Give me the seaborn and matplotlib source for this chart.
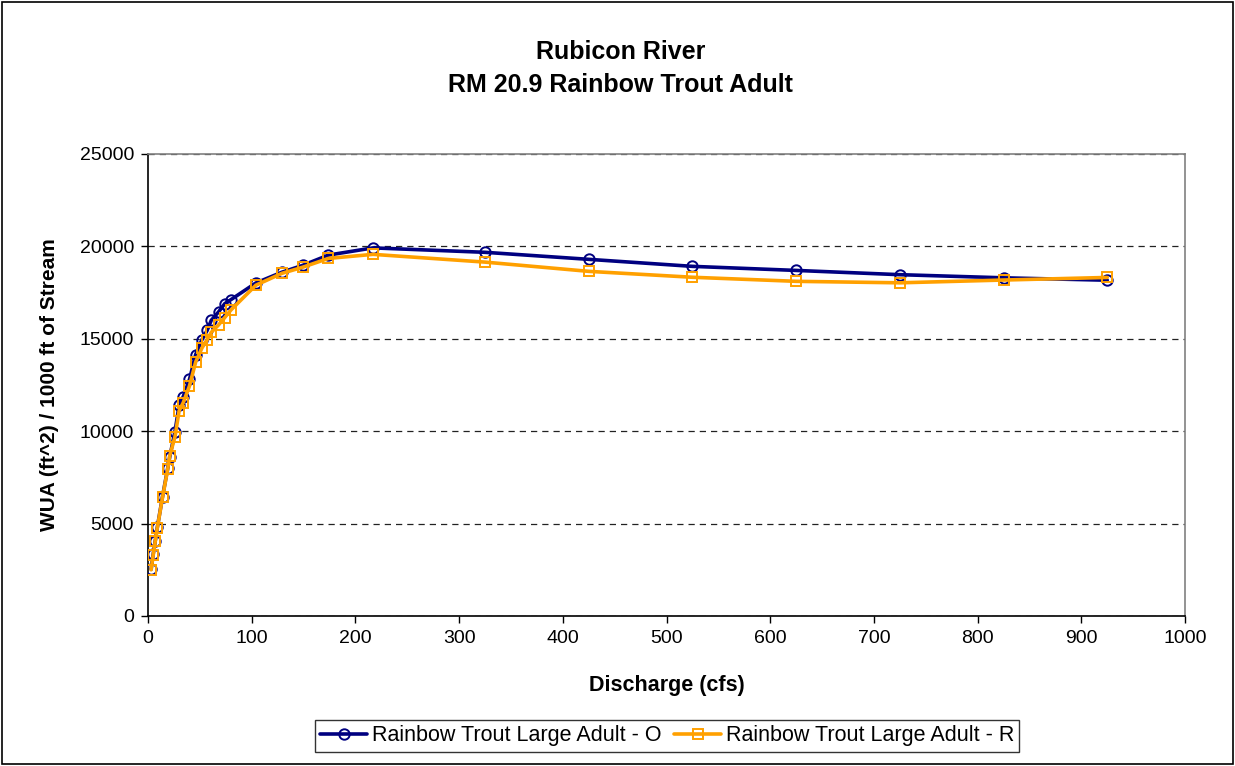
import matplotlib
matplotlib.use("Agg")
import matplotlib.pyplot as plt
import seaborn as sns
import pandas as pd
from matplotlib.patches import Rectangle

discharge = [3, 5, 7, 9, 14, 19, 21, 26, 30, 34, 40, 46, 52, 57, 61, 68, 74, 80,
             104, 129, 149, 174, 217, 325, 425, 525, 625, 725, 825, 925]
wua_o = [2530, 3340, 4060, 4800, 6460, 7990, 8620, 9970, 11400, 11870, 12800, 14150,
         14950, 15450, 16000, 16450, 16900, 17120,
         18020, 18600, 18970, 19530, 19920, 19680, 19300, 18920, 18700, 18470, 18300, 18170]
wua_r = [2500, 3300, 4050, 4780, 6420, 7950, 8680, 9700, 11100, 11550, 12450, 13750,
         14500, 14950, 15350, 15750, 16150, 16560,
         17900, 18540, 18870, 19350, 19570, 19150, 18650, 18330, 18110, 18030, 18180, 18320]
series_o = "Rainbow Trout Large Adult - O"
series_r = "Rainbow Trout Large Adult - R"

sns.set_theme(style="white")
plt.rcParams['font.family'] = ['Liberation Sans', 'DejaVu Sans']
plt.rcParams['text.color'] = 'black'
plt.rcParams['axes.labelcolor'] = 'black'
plt.rcParams['xtick.color'] = 'black'
plt.rcParams['ytick.color'] = 'black'

fig = plt.figure(figsize=(12.35, 7.66), dpi=100)
ax = fig.add_axes([148/1235, 1-616/766, (1185-148)/1235, (616-154)/766])

df_o = pd.DataFrame({"x": discharge, "y": wua_o})
df_r = pd.DataFrame({"x": discharge, "y": wua_r})

navy = "#000080"
orange = "#FFA000"
sns.lineplot(data=df_o, x="x", y="y", ax=ax, color=navy, lw=2.6, marker="o", ms=7.5,
             markerfacecolor="none", markeredgecolor=navy, markeredgewidth=1.4,
             sort=False, label=series_o, zorder=3)
sns.lineplot(data=df_r, x="x", y="y", ax=ax, color=orange, lw=2.6, marker="s", ms=7.5,
             markerfacecolor="none", markeredgecolor=orange, markeredgewidth=1.4,
             sort=False, label=series_r, zorder=4)

ax.set_xlim(0, 1000)
ax.set_ylim(0, 25000)
ax.set_xticks(range(0, 1001, 100))
ax.set_yticks(range(0, 25001, 5000))
ax.yaxis.grid(True, linestyle=(0, (5, 4)), color="#222222", linewidth=0.9)
ax.xaxis.grid(False)
for side in ["top", "right"]:
    ax.spines[side].set_color("#808080")
    ax.spines[side].set_linewidth(1.2)
for side in ["left", "bottom"]:
    ax.spines[side].set_color("black")
    ax.spines[side].set_linewidth(1.2)
ax.tick_params(axis="both", which="major", direction="out", length=5, width=1,
               color="black", labelcolor="black", labelsize=14, bottom=True, left=True, pad=5)

ax.set_xlabel("Discharge (cfs)", fontsize=15.5, fontweight="bold", labelpad=20, color="black")
ax.set_ylabel("WUA (ft^2) / 1000 ft of Stream", fontsize=15, fontweight="bold", labelpad=15, color="black")

fig.text(0.5025, 1-52/766, "Rubicon River", ha="center", va="center", fontsize=18, fontweight="bold", color="black")
fig.text(0.5025, 1-85/766, "RM 20.9 Rainbow Trout Adult", ha="center", va="center", fontsize=18, fontweight="bold", color="black")

leg = ax.legend(loc="center", bbox_to_anchor=(667/1235, 1-736/766), bbox_transform=fig.transFigure,
                ncol=2, frameon=True, fancybox=False, edgecolor="black", fontsize=15.5,
                handlelength=2.2, handletextpad=0.2, columnspacing=0.6, borderpad=0.25,
                borderaxespad=0)
leg.get_frame().set_linewidth(1.0)
for t in leg.get_texts():
    t.set_color("black")

fig.patches.append(Rectangle((0.002, 0.002), 0.996, 0.996, transform=fig.transFigure,
                             fill=False, edgecolor="black", linewidth=1.2))

fig.savefig("out.png", dpi=100)
